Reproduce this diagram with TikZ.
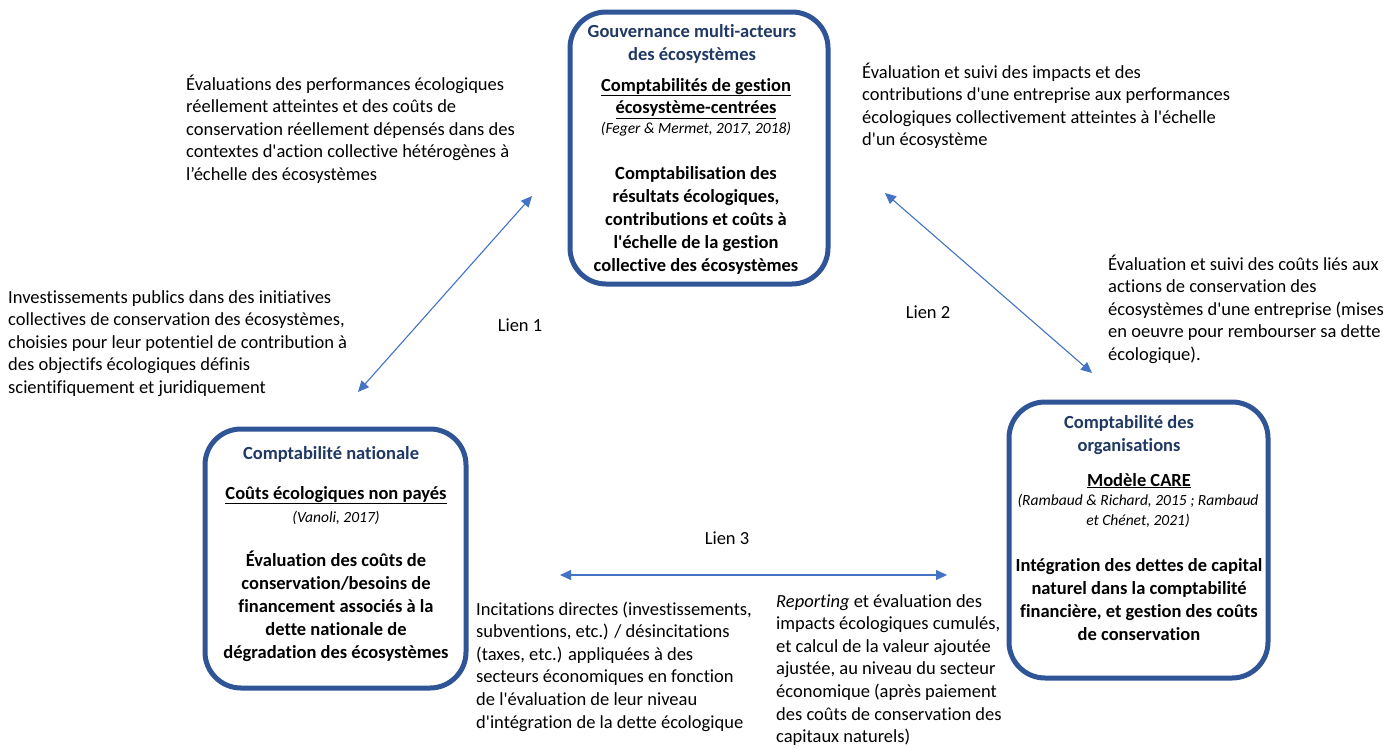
\documentclass[tikz,border=0pt]{standalone}
\usepackage{fontspec}
\setmainfont{Carlito}[Ligatures={TeXOff,NoCommon}]
\usetikzlibrary{arrows.meta}
\definecolor{boxblue}{HTML}{2F5597}
\definecolor{navy}{HTML}{203864}
\definecolor{arrowblue}{HTML}{4472C4}
% note: for multi-line nodes the 'base' anchor is the baseline of the last line
\tikzset{
  box/.style={draw=boxblue, line width=5pt, rounded corners=36pt, fill=white, inner sep=0pt},
  txt/.style={anchor=base west, align=left, inner sep=0pt, font=\fontsize{18.5}{22.6}\selectfont},
  ctr/.style={anchor=base, align=center, inner sep=0pt, font=\fontsize{18.5}{23}\selectfont},
  ttl/.style={ctr, text=navy, font=\fontsize{18.5}{23.2}\selectfont\bfseries},
  sub/.style={ctr, font=\fontsize{18.5}{22.5}\selectfont\bfseries},
  cite/.style={ctr, font=\fontsize{15.5}{20}\selectfont\itshape},
  body/.style={ctr, font=\fontsize{18.5}{23}\selectfont\bfseries},
  lien/.style={anchor=center, inner sep=0pt, font=\fontsize{18.5}{22.6}\selectfont},
  link/.style={draw=arrowblue, line width=1.1pt, {Triangle[length=11pt,width=10pt]}-{Triangle[length=11pt,width=10pt]}}
}
\begin{document}
\begin{tikzpicture}[x=1pt,y=-1pt]
\useasboundingbox (0,0) rectangle (1400,747);
% boxes
\node[box, minimum width=258pt, minimum height=272pt] (top) at (699,148) {};
\node[box, minimum width=261pt, minimum height=259pt] (left) at (335.5,558.5) {};
\node[box, minimum width=259pt, minimum height=276pt] (right) at (1138.5,540) {};
% top box contents
\node[ttl] (topT) at (692,60.2) {Gouvernance multi-acteurs\\des écosystèmes};
\node[sub] (topS) at (696,113.5) {\underline{Comptabilités de gestion}\\\underline{écosystème-centrées}};
\node[cite] (topC) at (696,133) {(Feger \& Mermet, 2017, 2018)};
\node[body] (topB) at (696,271) {Comptabilisation des\\résultats écologiques,\\contributions et coûts à\\l'échelle de la gestion\\collective des écosystèmes};
% left box contents
\node[ttl] (leftT) at (331,459) {Comptabilité nationale};
\node[sub] (leftS) at (336,499) {\underline{Coûts écologiques non payés}};
\node[cite] (leftC) at (336,522) {(Vanoli, 2017)};
\node[body] (leftB) at (336,658) {Évaluation des coûts de\\conservation/besoins de\\financement associés à la\\dette nationale de\\dégradation des écosystèmes};
% right box contents
\node[ttl] (rightT) at (1129,451.2) {Comptabilité des\\organisations};
\node[sub] (rightS) at (1139,486) {\underline{Modèle CARE}};
\node[cite] (rightC) at (1138,525) {(Rambaud \& Richard, 2015 ; Rambaud\\et Chénet, 2021)};
\node[body] (rightB) at (1139,640) {Intégration des dettes de capital\\naturel dans la comptabilité\\financière, et gestion des coûts\\de conservation};
% free texts
\node[txt] (t1) at (186,180.4) {Évaluations des performances écologiques\\réellement atteintes et des coûts de\\conservation réellement dépensés dans des\\contextes d'action collective hétérogènes à\\l’échelle des écosystèmes};
\node[txt] (t2) at (862,145.8) {Évaluation et suivi des impacts et des\\contributions d'une entreprise aux performances\\écologiques collectivement atteintes à l'échelle\\d'un écosystème};
\node[txt] (t3) at (8,393.4) {Investissements publics dans des initiatives\\collectives de conservation des écosystèmes,\\choisies pour leur potentiel de contribution à\\des objectifs écologiques définis\\scientifiquement et juridiquement};
\node[txt] (t4) at (1108,360.4) {Évaluation et suivi des coûts liés aux\\actions de conservation des\\écosystèmes d'une entreprise (mises\\en oeuvre pour rembourser sa dette\\écologique).};
\node[txt] (t5) at (476,728) {Incitations directes (investissements,\\subventions, etc.) / désincitations\\(taxes, etc.) appliquées à des\\secteurs économiques en fonction\\de l'évaluation de leur niveau\\d'intégration de la dette écologique};
\node[txt] (t6) at (776,742.6) {\textit{Reporting} et évaluation des\\impacts écologiques cumulés,\\et calcul de la valeur ajoutée\\ajustée, au niveau du secteur\\économique (après paiement\\des coûts de conservation des\\capitaux naturels)};
% link labels
\node[lien] (lien1) at (520,325) {Lien 1};
\node[lien] (lien2) at (928,312) {Lien 2};
\node[lien] (lien3) at (727,538) {Lien 3};
% arrows
\coordinate (l1a) at (358,392);
\coordinate (l1b) at (532,196);
\coordinate (l2a) at (885,193);
\coordinate (l2b) at (1092,373);
\coordinate (l3a) at (560,575);
\coordinate (l3b) at (947,575);
\draw[link] (l1a) -- (l1b);
\draw[link] (l2a) -- (l2b);
\draw[link] (l3a) -- (l3b);
\end{tikzpicture}
\end{document}
